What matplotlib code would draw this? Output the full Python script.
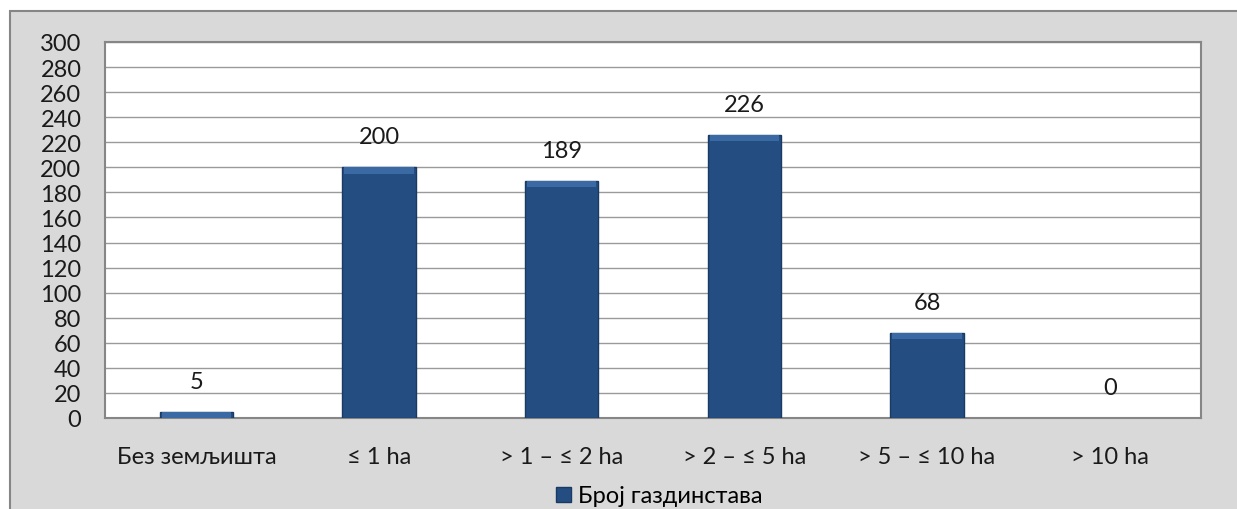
import matplotlib.pyplot as plt
from matplotlib.patches import Rectangle

categories = ["Без земљишта", "≤ 1 ha", "> 1 – ≤ 2 ha", "> 2 – ≤ 5 ha", "> 5 – ≤ 10 ha", "> 10 ha"]
households = [5, 200, 189, 226, 68, 0]
series_name = "Број газдинстава"

plt.rcParams["font.family"] = ["Lato", "DejaVu Sans"]

W, H = 1237, 510
FS = 17
fig = plt.figure(figsize=(W / 100, H / 100), dpi=100)
fig.patch.set_facecolor("white")

# grey chart area with border (runs off the right/bottom edge)
fig.patches.append(Rectangle((10 / W, -0.05), 1.1, 1 - 12 / H + 0.05, transform=fig.transFigure,
                             facecolor="#d9d9d9", edgecolor="#868686", linewidth=1.5, zorder=-10))

ax = fig.add_axes([105 / W, 1 - 419 / H, 1096 / W, 376 / H])
ax.set_facecolor("white")

x = range(len(categories))
edges = ["#1a3a63" if v > 0 else "none" for v in households]
bars = ax.bar(x, households, width=0.4, color="#244d82", edgecolor=edges, linewidth=1.0,
              zorder=3, label=series_name)
# lighter bevel on top of each bar
bevel = [min(v, 5) for v in households]
ax.bar(x, bevel, bottom=[v - b for v, b in zip(households, bevel)], width=0.38,
       color="#3b69a3", linewidth=0, zorder=4)

for xi, v in zip(x, households):
    ax.annotate(str(v), (xi, v), xytext=(0, 22), textcoords="offset points",
                ha="center", va="center", fontsize=FS, color="#1a1a1a", zorder=5)

ax.set_xlim(-0.5, len(categories) - 0.5)
ax.set_ylim(0, 300)
ax.set_yticks(range(0, 301, 20))
ax.set_xticks(list(x))
ax.set_xticklabels(categories)
ax.tick_params(axis="y", length=0, pad=17, labelsize=FS, labelcolor="#1a1a1a")
ax.tick_params(axis="x", length=0, pad=20, labelsize=FS, labelcolor="#1a1a1a")
ax.grid(axis="y", color="#9a9a9a", linewidth=1.0, zorder=0)
ax.set_axisbelow(True)
for s in ax.spines.values():
    s.set_color("#868686")
    s.set_linewidth(1.5)

leg = fig.legend(handles=[bars], labels=[series_name], loc="center", bbox_to_anchor=(0.533, 1 - 497 / H),
                 frameon=False, fontsize=FS, handlelength=0.6, handleheight=0.6, handletextpad=0.3)

fig.savefig("out.png", dpi=100)
